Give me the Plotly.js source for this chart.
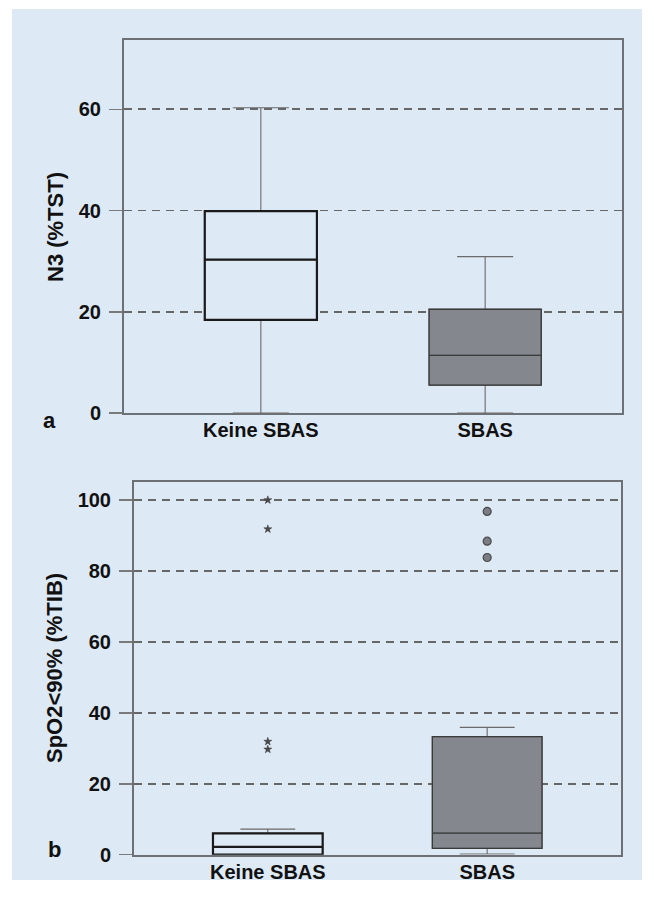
<!DOCTYPE html>
<html>
<head>
<meta charset="utf-8">
<script src="https://cdn.plot.ly/plotly-3.0.1.min.js"></script>
<style>
  html, body { margin: 0; padding: 0; background: #ffffff; }
  #panel { position: absolute; left: 12px; top: 9px; width: 630px; height: 871px; background: #dee9f6; }
  #chart { position: absolute; left: 0; top: 0; width: 654px; height: 901px; }
</style>
</head>
<body>
<div id="panel"></div>
<div id="chart"></div>
<script>
// ---- data ----
const categories = ['Keine SBAS', 'SBAS'];

// Panel a: N3 (%TST)
const n3Q1     = [18.4, 5.5];
const n3Median = [30.3, 11.4];
const n3Q3     = [39.9, 20.5];
const n3Lower  = [0, 0];
const n3Upper  = [60.3, 30.9];

// Panel b: SpO2<90% (%TIB)
const spoQ1     = [0, 1.8];
const spoMedian = [2.2, 6.1];
const spoQ3     = [6.0, 33.3];
const spoLower  = [0, 0.2];
const spoUpper  = [7.2, 35.9];

// outliers of panel b
const keineExtremes = [100, 91.8, 31.9, 29.7];   // stars
const sbasOutliers  = [96.8, 88.4, 83.8];        // circles

const n3Ticks  = [0, 20, 40, 60];
const spoTicks = [0, 20, 40, 60, 80, 100];

// ---- styling ----
const BG = '#dee9f6';
const FONT = 'Liberation Sans, Arial, sans-serif';
const fills = [BG, '#85878f'];
const outlineColors = ['#1a1a1a', '#3a3a3a'];
const outlineWidths = [2.2, 1.3];

function boxTraces(q1, med, q3, lo, hi, xa, ya) {
  const tr = [];
  categories.forEach((c, i) => {
    // whiskers + box (thin grey)
    tr.push({
      type: 'box', x: [c], q1: [q1[i]], median: [med[i]], q3: [q3[i]],
      lowerfence: [lo[i]], upperfence: [hi[i]],
      width: 0.5, whiskerwidth: 0.5, boxpoints: false,
      fillcolor: fills[i], line: { color: '#6a6a6a', width: 1.1 },
      xaxis: xa, yaxis: ya, showlegend: false, hoverinfo: 'skip'
    });
    // box outline and median (heavier)
    tr.push({
      type: 'box', x: [c], q1: [q1[i]], median: [med[i]], q3: [q3[i]],
      lowerfence: [q1[i]], upperfence: [q3[i]],
      width: 0.5, whiskerwidth: 0, boxpoints: false,
      fillcolor: 'rgba(0,0,0,0)', line: { color: outlineColors[i], width: outlineWidths[i] },
      xaxis: xa, yaxis: ya, showlegend: false, hoverinfo: 'skip'
    });
  });
  return tr;
}

const traces = [
  ...boxTraces(n3Q1, n3Median, n3Q3, n3Lower, n3Upper, 'x', 'y'),
  ...boxTraces(spoQ1, spoMedian, spoQ3, spoLower, spoUpper, 'x2', 'y2'),
  {
    type: 'scatter', mode: 'markers', xaxis: 'x2', yaxis: 'y2',
    x: keineExtremes.map(() => categories[0]), y: keineExtremes,
    marker: { symbol: 'star', size: 6, color: '#4a4a4a', line: { color: '#333', width: 0.5 } },
    showlegend: false, hoverinfo: 'skip'
  },
  {
    type: 'scatter', mode: 'markers', xaxis: 'x2', yaxis: 'y2',
    x: sbasOutliers.map(() => categories[1]), y: sbasOutliers,
    marker: { symbol: 'circle', size: 8, color: '#7b7d84', line: { color: '#4a4a4a', width: 1.2 } },
    showlegend: false, hoverinfo: 'skip'
  }
];

const tickFont = { family: FONT, size: 20, color: '#111', weight: 'bold' };

function xAxis(domain, anchor) {
  return {
    domain: domain, anchor: anchor, type: 'category', categoryorder: 'array', categoryarray: categories,
    range: [-0.61, 1.61], showgrid: false, zeroline: false,
    showline: true, mirror: true, linecolor: '#6d7176', linewidth: 2,
    ticks: 'outside', ticklen: 0, tickcolor: 'rgba(0,0,0,0)', ticklabelstandoff: -2,
    tickfont: tickFont, fixedrange: true
  };
}
function yAxis(domain, anchor, range, ticks) {
  return {
    domain: domain, anchor: anchor, range: range, tickvals: ticks, ticktext: ticks.map(String),
    showgrid: true, gridcolor: '#676767', gridwidth: 1.8, griddash: '8px,6px',
    zeroline: false, showline: true, mirror: true, linecolor: '#6d7176', linewidth: 2,
    ticks: 'outside', ticklen: 13, tickwidth: 1.5, tickcolor: '#7a7a7a', ticklabelstandoff: 4,
    tickfont: tickFont, fixedrange: true
  };
}

const layout = {
  width: 654, height: 901,
  margin: { l: 0, r: 0, t: 0, b: 0 },
  paper_bgcolor: 'rgba(0,0,0,0)', plot_bgcolor: 'rgba(0,0,0,0)',
  boxmode: 'overlay', showlegend: false,
  xaxis: xAxis([124 / 654, 622 / 654], 'y'),
  yaxis: yAxis([1 - 413 / 901, 1 - 39.7 / 901], 'x', [0, 73.75], n3Ticks),
  xaxis2: xAxis([134 / 654, 621 / 654], 'y2'),
  yaxis2: yAxis([1 - 854.7 / 901, 1 - 482.3 / 901], 'x2', [0, 105], spoTicks),
  annotations: [
    { text: 'N3 (%TST)', xref: 'paper', yref: 'paper', x: 55 / 654, y: 1 - 227 / 901,
      xanchor: 'center', yanchor: 'middle', textangle: -90, showarrow: false,
      font: { family: FONT, size: 22, color: '#111', weight: 'bold' } },
    { text: 'SpO2&lt;90% (%TIB)', xref: 'paper', yref: 'paper', x: 54 / 654, y: 1 - 668 / 901,
      xanchor: 'center', yanchor: 'middle', textangle: -90, showarrow: false,
      font: { family: FONT, size: 22, color: '#111', weight: 'bold' } },
    { text: 'a', xref: 'paper', yref: 'paper', x: 49 / 654, y: 1 - 420 / 901,
      xanchor: 'center', yanchor: 'middle', showarrow: false,
      font: { family: FONT, size: 22, color: '#111', weight: 'bold' } },
    { text: 'b', xref: 'paper', yref: 'paper', x: 54 / 654, y: 1 - 849 / 901,
      xanchor: 'center', yanchor: 'middle', showarrow: false,
      font: { family: FONT, size: 22, color: '#111', weight: 'bold' } }
  ]
};

Plotly.newPlot('chart', traces, layout, { staticPlot: true, displayModeBar: false });
</script>
</body>
</html>
